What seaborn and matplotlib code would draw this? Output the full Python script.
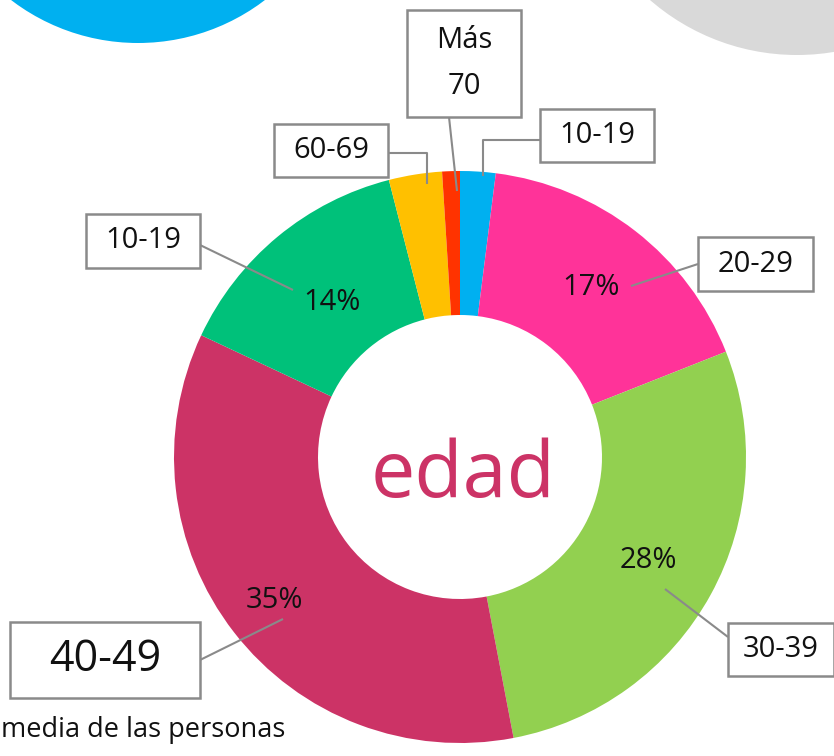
import matplotlib
matplotlib.use("Agg")
import matplotlib.pyplot as plt
from matplotlib.patches import Rectangle, Circle
import numpy as np
import seaborn as sns

# ---- data ----
categories = ["10-19", "20-29", "30-39", "40-49", "10-19", "60-69", "Más\n70"]
values = [2, 17, 28, 35, 14, 3, 1]
pct_labels = ["", "17%", "28%", "35%", "14%", "", ""]
center_title = "edad"
footer_text = "media de las personas"

# ---- style ----
colors = ["#00B0F0", "#FF3399", "#92D050", "#CC3366", "#00C17A", "#FFC000", "#FF3300"]
sns.set_theme(style="white")
plt.rcParams["font.family"] = ["Open Sans", "DejaVu Sans"]
palette = sns.color_palette(colors)

W, H = 834, 756
def Y(y):
    return H - y

fig = plt.figure(figsize=(W / 100, H / 100), dpi=100)
ax = fig.add_axes([0, 0, 1, 1])

# decorative background circles
ax.add_patch(Circle((138, Y(-166)), 209, color="#00B0F0", lw=0, zorder=0))
ax.add_patch(Circle((797, Y(-169)), 224, color="#D9D9D9", lw=0, zorder=0))

R = 286
cx, cy = 460, Y(457)
wedges, _ = ax.pie(values, colors=palette, startangle=90, counterclock=False,
                   radius=R, center=(cx, cy),
                   wedgeprops=dict(width=144, linewidth=0))

# percent labels placed along each wedge's mid-angle
pct_dist = [0.75, 0.75, 0.75, 0.82, 0.70, 0.75, 0.75]
for w, lab, d in zip(wedges, pct_labels, pct_dist):
    if not lab:
        continue
    ang = np.deg2rad((w.theta1 + w.theta2) / 2)
    ax.text(cx + R * d * np.cos(ang), cy + R * d * np.sin(ang), lab,
            ha="center", va="center", fontsize=21, color="#111111", zorder=5)

ax.text(463, Y(497), center_title, ha="center", va="baseline",
        fontsize=57, color="#CC3366", zorder=5)

# category label boxes (layout, image pixel coords)
boxes = [(540, 109, 654, 162), (698, 237, 813, 291), (728, 623, 834, 676),
         (10, 622, 200, 698), (86, 214, 200, 268), (274, 124, 388, 177),
         (407, 10, 521, 117)]
leaders = [[(540, 140), (483, 140), (483, 176)],
           [(698, 264), (631, 286)],
           [(728, 637), (665, 589)],
           [(200, 660), (283, 619)],
           [(200, 245), (293, 290)],
           [(388, 153), (427, 153), (427, 184)],
           [(449, 117), (457, 191)]]
label_sizes = [21, 21, 21, 31, 21, 21, 21]
line_col = "#8A8A8A"

for lab, (x0, y0, x1, y1), pts, fs in zip(categories, boxes, leaders, label_sizes):
    xs = [p[0] for p in pts]
    ys = [Y(p[1]) for p in pts]
    ax.plot(xs, ys, color=line_col, lw=1.5, zorder=6, solid_capstyle="butt")
    ax.add_patch(Rectangle((x0, Y(y1)), x1 - x0, y1 - y0, facecolor="white",
                           edgecolor=line_col, lw=1.8, zorder=7))
    ax.text((x0 + x1) / 2, Y((y0 + y1) / 2), lab, ha="center", va="center",
            fontsize=fs, color="#111111", zorder=8, linespacing=1.75)

ax.text(1, Y(737), footer_text, ha="left", va="baseline",
        fontsize=19.5, color="#111111", zorder=8)

ax.set_xlim(0, W)
ax.set_ylim(0, H)
ax.set_aspect("equal")
ax.axis("off")
fig.savefig("out.png", dpi=100)
